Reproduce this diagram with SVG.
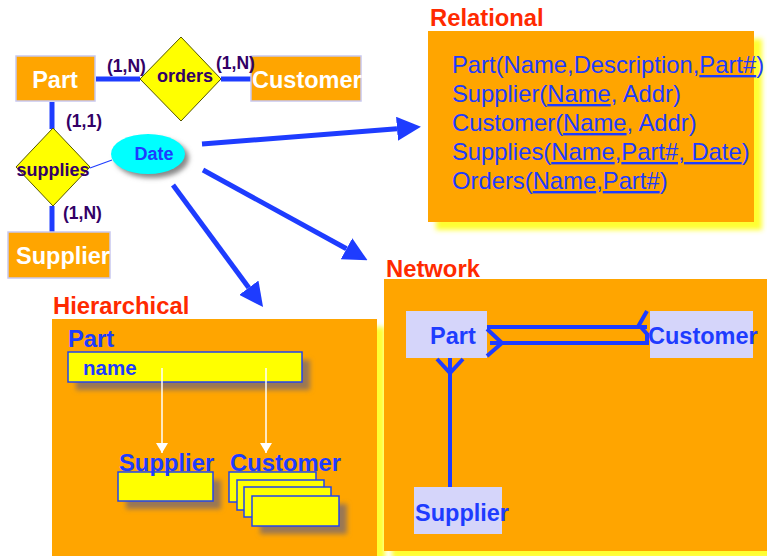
<svg xmlns="http://www.w3.org/2000/svg" width="767" height="556" viewBox="0 0 767 556">
<defs>
<style>
.ent{fill:#FFA500;stroke:#C8C8F0;stroke-width:1.5}
.entt{font-family:"Liberation Sans",Arial,sans-serif;font-weight:bold;font-size:23.5px;fill:#FFFFFF}
.rel{fill:#FFFF00;stroke:#555500;stroke-width:1}
.relt{font-family:"Liberation Sans",Arial,sans-serif;font-weight:bold;font-size:18px;fill:#330066}
.card{font-family:"Liberation Sans",Arial,sans-serif;font-weight:bold;font-size:17.5px;fill:#330066}
.thick{stroke:#1E3CFF;stroke-width:5;fill:none}
.lbl{font-family:"Liberation Sans",Arial,sans-serif;font-weight:bold;font-size:23.8px;fill:#FF2A00}
.panel{fill:#FFA500}
.rtxt{font-family:"Liberation Sans",Arial,sans-serif;font-size:23.8px;fill:#1E3CFF}
.btxt{font-family:"Liberation Sans",Arial,sans-serif;font-weight:bold;font-size:23.8px;fill:#1E3CFF}
.ybox{fill:#FFFF00;stroke:#2244EE;stroke-width:1.5}
.nbox{fill:#D5D5FA}
.ntxt{font-family:"Liberation Sans",Arial,sans-serif;font-weight:bold;font-size:23.5px;fill:#1E3CFF}
.wline{stroke:#FFFFFF;stroke-width:1.5;fill:none}
</style>
<filter id="blur" x="-20%" y="-20%" width="140%" height="140%"><feGaussianBlur stdDeviation="2.5"/></filter>
<marker id="bh" markerUnits="userSpaceOnUse" markerWidth="24" markerHeight="24" refX="0" refY="12" orient="auto"><path d="M0,0 L24,12 L0,24 z" fill="#1E3CFF"/></marker>
<marker id="wh" markerUnits="userSpaceOnUse" markerWidth="12" markerHeight="12" refX="10" refY="6" orient="auto"><path d="M0,0 L10,6 L0,12 z" fill="#FFFFFF"/></marker>
</defs>
<rect width="767" height="556" fill="#FFFFFF"/>

<!-- shadows -->
<rect x="436" y="39" width="326" height="191" fill="#FFFF33" filter="url(#blur)"/>
<rect x="60" y="327" width="325" height="240" fill="#FFFF33" filter="url(#blur)"/>
<rect x="392" y="287" width="383" height="272" fill="#FFFF33" filter="url(#blur)"/>

<!-- connectors -->
<g id="connectors">
<line class="thick" x1="96" y1="79" x2="140" y2="79"/>
<line class="thick" x1="221" y1="79" x2="251" y2="79"/>
<line class="thick" x1="52" y1="102" x2="52" y2="129"/>
<line class="thick" x1="52" y1="206" x2="52" y2="232"/>
<line x1="90" y1="168" x2="112" y2="160" stroke="#1E3CFF" stroke-width="1.2"/>
<line class="thick" x1="202" y1="144" x2="397" y2="128.7" marker-end="url(#bh)"/>
<line class="thick" x1="203" y1="170" x2="346.5" y2="248.8" marker-end="url(#bh)"/>
<line class="thick" x1="173" y1="185" x2="248.8" y2="287.7" marker-end="url(#bh)"/>
</g>

<!-- ER nodes -->
<g id="er-part"><rect class="ent" x="16" y="56" width="79" height="45"/><text class="entt" x="55" y="88" text-anchor="middle">Part</text></g>
<g id="er-orders"><polygon class="rel" points="181,37 221,79 181,121 140,79"/><text class="relt" x="185" y="82" text-anchor="middle">orders</text></g>
<g id="er-customer"><rect class="ent" x="251" y="56" width="110" height="45"/><text class="entt" x="252" y="88">Customer</text></g>
<g id="er-supplies"><polygon class="rel" points="53,128 90,167 53,206 16,167"/><text class="relt" x="53" y="176" text-anchor="middle">supplies</text></g>
<g id="er-supplier"><rect class="ent" x="8" y="232" width="102" height="46"/><text class="entt" x="16" y="264">Supplier</text></g>
<g id="er-date"><ellipse cx="152" cy="158" rx="37" ry="20" fill="#888888" filter="url(#blur)"/><ellipse cx="148" cy="154" rx="37" ry="20" fill="#00FFFF"/><text class="relt" x="154" y="160" text-anchor="middle" style="fill:#1E3CFF">Date</text></g>
<g id="cards">
<text class="card" x="107" y="72">(1,N)</text>
<text class="card" x="216" y="69">(1,N)</text>
<text class="card" x="66" y="127">(1,1)</text>
<text class="card" x="63" y="219">(1,N)</text>
</g>

<!-- Relational -->
<g id="relational">
<text class="lbl" x="430" y="26">Relational</text>
<rect class="panel" x="428" y="31" width="326" height="191"/>
<text class="rtxt" x="452" y="73">Part(Name,Description,<tspan text-decoration="underline">Part#</tspan>)</text>
<text class="rtxt" x="452" y="102">Supplier(<tspan text-decoration="underline">Name</tspan>, Addr)</text>
<text class="rtxt" x="452" y="131">Customer(<tspan text-decoration="underline">Name</tspan>, Addr)</text>
<text class="rtxt" x="452" y="160">Supplies(<tspan text-decoration="underline">Name</tspan>,<tspan text-decoration="underline">Part#, Date</tspan>)</text>
<text class="rtxt" x="452" y="189">Orders(<tspan text-decoration="underline">Name</tspan>,<tspan text-decoration="underline">Part#</tspan>)</text>
</g>

<!-- Hierarchical -->
<g id="hierarchical">
<text class="lbl" x="53" y="314">Hierarchical</text>
<rect class="panel" x="52" y="319" width="325" height="240"/>
<text class="btxt" x="68" y="347">Part</text>
<rect x="76" y="360" width="234" height="30" fill="#997755" filter="url(#blur)"/>
<rect class="ybox" x="68" y="352" width="234" height="30"/>
<text class="btxt" x="83" y="375" style="font-size:20.5px">name</text>
<line class="wline" x1="162" y1="368" x2="162" y2="453" marker-end="url(#wh)"/>
<line class="wline" x1="266" y1="368" x2="266" y2="453" marker-end="url(#wh)"/>
<rect x="126" y="480" width="95" height="29" fill="#997755" filter="url(#blur)"/>
<rect class="ybox" x="118" y="472" width="95" height="29"/>
<rect x="260" y="504" width="87" height="30" fill="#997755" filter="url(#blur)"/>
<rect class="ybox" x="229" y="472" width="87" height="30"/>
<rect class="ybox" x="237" y="480" width="87" height="30"/>
<rect class="ybox" x="244" y="487" width="87" height="30"/>
<rect class="ybox" x="252" y="496" width="87" height="30"/>
<text class="btxt" x="119" y="471">Supplier</text>
<text class="btxt" x="230" y="471">Customer</text>
</g>

<!-- Network -->
<g id="network">
<text class="lbl" x="386" y="277">Network</text>
<rect class="panel" x="384" y="279" width="383" height="272"/>
<g id="net-part"><rect class="nbox" x="406" y="311" width="81" height="47"/><text class="ntxt" x="430" y="344">Part</text></g>
<g id="net-customer"><rect class="nbox" x="650" y="311" width="103" height="47"/><text class="ntxt" x="648" y="344">Customer</text></g>
<g id="net-supplier"><rect class="nbox" x="414" y="487" width="88" height="47"/><text class="ntxt" x="415" y="521">Supplier</text></g>
<g id="net-links" stroke="#1E3CFF" stroke-width="4" fill="none">
<line x1="487" y1="327" x2="647" y2="327"/>
<polyline points="647,311 639,325 647,334 647,343 490,343"/>
<polyline points="487,329 502,343 487,356"/>
<line x1="450" y1="358" x2="450" y2="487"/>
<polyline points="437,359 450,373 463,359"/>
</g>
</g>
</svg>
